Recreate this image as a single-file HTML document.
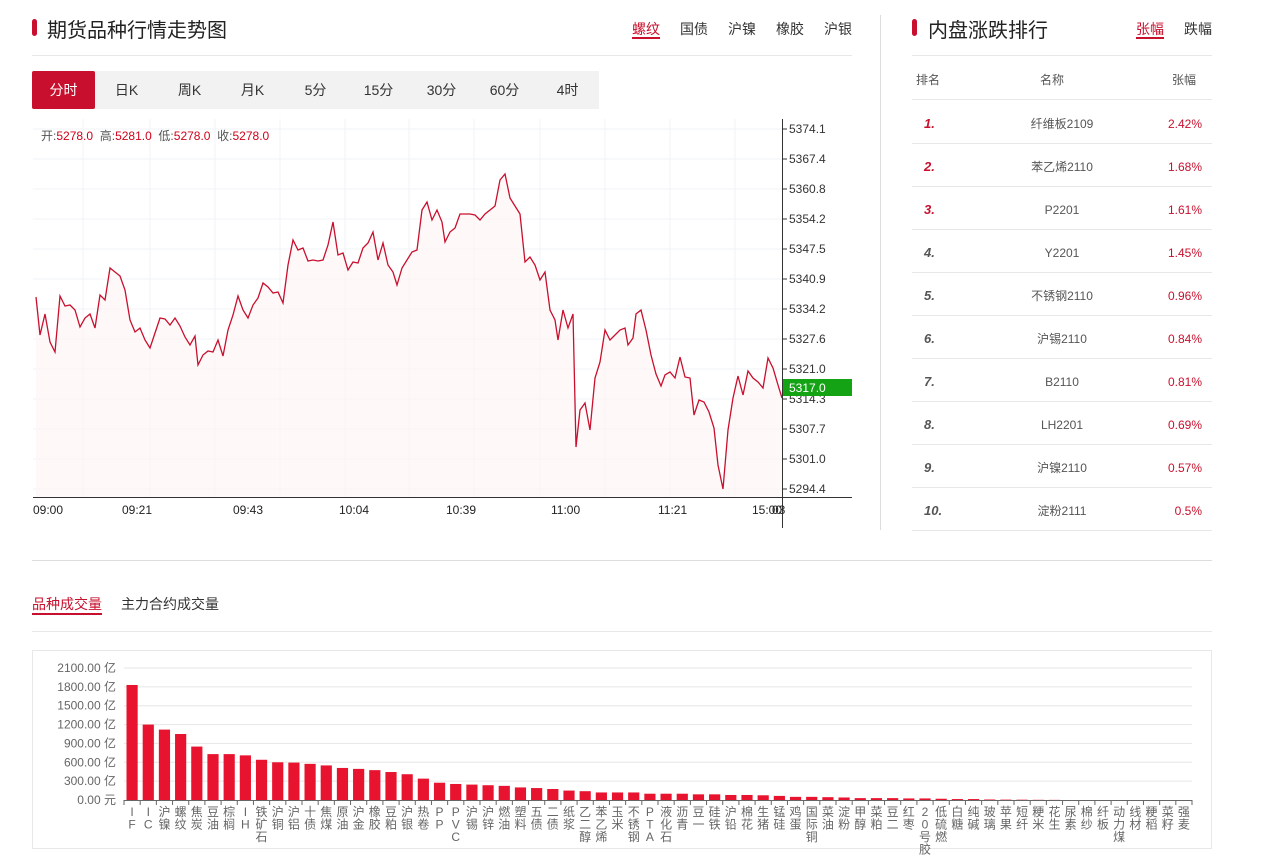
<!DOCTYPE html>
<html><head><meta charset="utf-8"><style>
*{margin:0;padding:0;box-sizing:border-box}
body{width:1286px;height:864px;background:#fff;font-family:"Liberation Sans","Noto Sans CJK SC",sans-serif;color:#333;position:relative;overflow:hidden}
.a{position:absolute;white-space:nowrap}
.bar{position:absolute;width:5px;height:17px;background:#c8102e;border-radius:3px}
.tb{position:absolute;top:71px;height:38px;line-height:38px;font-size:14px;color:#333;text-align:center}
.row{position:absolute;left:912px;width:300px;height:43px;border-bottom:1px solid #e8e8e8;font-size:12px;color:#555}
.row span{position:absolute;top:15px;line-height:16px;height:16px}
</style></head><body>
<div class="bar" style="left:32px;top:19px"></div>
<div class="a" style="left:47px;top:14px;font-size:20px;color:#222">期货品种行情走势图</div>
<div class="a" style="left:632px;top:19px;font-size:14px;color:#c8102e">螺纹</div>
<div class="a" style="left:632px;top:37px;width:28px;height:2px;background:#c8102e"></div>
<div class="a" style="left:680px;top:19px;font-size:14px">国债</div>
<div class="a" style="left:728px;top:19px;font-size:14px">沪镍</div>
<div class="a" style="left:776px;top:19px;font-size:14px">橡胶</div>
<div class="a" style="left:824px;top:19px;font-size:14px">沪银</div>
<div class="a" style="left:32px;top:55px;width:820px;height:1px;background:#e8e8e8"></div>
<div class="a" style="left:32px;top:71px;width:567px;height:38px;background:#f2f2f2"></div>
<div class="tb" style="left:32px;width:63px;background:#c8102e;color:#fff;border-radius:2px">分时</div>
<div class="tb" style="left:95px;width:63px">日K</div>
<div class="tb" style="left:158px;width:63px">周K</div>
<div class="tb" style="left:221px;width:63px">月K</div>
<div class="tb" style="left:284px;width:63px">5分</div>
<div class="tb" style="left:347px;width:63px">15分</div>
<div class="tb" style="left:410px;width:63px">30分</div>
<div class="tb" style="left:473px;width:63px">60分</div>
<div class="tb" style="left:536px;width:63px">4时</div>
<svg class="a" style="left:0;top:0" width="880" height="540" id="ls"></svg>
<div class="a" style="left:41px;top:127px;font-size:12px;color:#555">开:<span style="color:#d0021b">5278.0</span>&nbsp; 高:<span style="color:#d0021b">5281.0</span>&nbsp; 低:<span style="color:#d0021b">5278.0</span>&nbsp; 收:<span style="color:#d0021b">5278.0</span></div>
<div class="a" style="left:880px;top:15px;width:1px;height:515px;background:#ddd"></div>
<div class="bar" style="left:912px;top:19px"></div>
<div class="a" style="left:928px;top:14px;font-size:20px;color:#222">内盘涨跌排行</div>
<div class="a" style="left:1136px;top:19px;font-size:14px;color:#c8102e">张幅</div>
<div class="a" style="left:1136px;top:37px;width:28px;height:2px;background:#c8102e"></div>
<div class="a" style="left:1184px;top:19px;font-size:14px">跌幅</div>
<div class="a" style="left:912px;top:55px;width:300px;height:1px;background:#e8e8e8"></div>
<div class="row" style="top:57px"><span style="left:4px;top:15px">排名</span><span style="left:128px;top:15px">名称</span><span style="left:260px;top:15px">张幅</span></div>
<div id="rows"></div>
<div class="a" style="left:32px;top:560px;width:1180px;height:1px;background:#ddd"></div>
<div class="a" style="left:32px;top:594px;font-size:14px;color:#c8102e">品种成交量</div>
<div class="a" style="left:32px;top:613px;width:70px;height:2px;background:#c8102e"></div>
<div class="a" style="left:121px;top:594px;font-size:14px;color:#333">主力合约成交量</div>
<div class="a" style="left:32px;top:631px;width:1180px;height:1px;background:#e8e8e8"></div>
<div class="a" style="left:32px;top:650px;width:1180px;height:199px;border:1px solid #e8e8e8"></div>
<svg class="a" style="left:0;top:0" width="1286" height="864" id="bs"></svg>
<script>
var ns="http://www.w3.org/2000/svg";
function el(p,t,a,txt){var e=document.createElementNS(ns,t);for(var k in a)e.setAttribute(k,a[k]);if(txt!=null)e.textContent=txt;p.appendChild(e);return e;}
var ls=document.getElementById('ls');
for(var i=0;i<13;i++){var y=129+30*i;el(ls,'line',{x1:33,x2:782,y1:y,y2:y,stroke:'#f2f3f6'});}
[83,150,215,280,345,409,474,540,605,670,735].forEach(function(x){el(ls,'line',{x1:x,x2:x,y1:119,y2:497,stroke:'#f2f3f6'});});
var pts="36,297 40,335 45,314 50,342 55,352 60,296 65,306 70,305 75,310 80,327 85,318 90,314 95,328 100,295 105,300 110,268 115,272 120,276 125,290 130,320 135,332 140,328 145,340 150,348 155,333 160,318 165,319 170,325 175,318 180,326 185,337 190,345 195,336 198,365 203,355 208,351 213,352 218,340 223,356 228,330 233,315 238,296 243,310 248,318 253,305 258,298 263,283 268,287 273,293 278,292 283,303 288,265 293,240 298,250 303,248 308,261 313,260 318,261 323,260 328,245 333,222 338,255 343,253 348,270 353,262 358,263 363,248 368,243 373,232 378,260 383,243 388,265 393,272 397,285 402,268 407,260 412,252 417,250 422,210 427,202 432,220 437,210 442,222 445,242 450,232 455,228 460,214 470,214 475,215 480,220 485,214 490,210 495,206 500,180 505,174 510,198 515,206 520,214 525,262 530,257 535,265 540,280 545,272 550,310 555,320 558,340 563,310 568,328 573,314 576,447 580,410 585,403 590,430 595,378 600,362 605,330 610,340 615,335 620,330 625,328 628,345 633,338 636,314 641,310 646,330 651,355 656,374 661,386 665,375 670,372 675,378 680,357 685,377 690,378 694,415 699,400 704,402 709,412 714,428 718,465 723,489 728,430 733,398 738,376 743,395 748,371 753,378 758,382 763,388 768,358 773,368 778,385 782,398";
el(ls,'polygon',{points:"36,497 "+pts+" 782,497",fill:'#fdf5f5',opacity:0.7});
el(ls,'polyline',{points:pts,fill:'none',stroke:'#c8102e','stroke-width':1.3});
el(ls,'line',{x1:33,x2:852,y1:497.5,y2:497.5,stroke:'#333'});
el(ls,'line',{x1:782.5,x2:782.5,y1:119,y2:528,stroke:'#333'});
var yl=["5374.1","5367.4","5360.8","5354.2","5347.5","5340.9","5334.2","5327.6","5321.0","5314.3","5307.7","5301.0","5294.4"];
yl.forEach(function(t,i){var y=129+30*i;el(ls,'line',{x1:782,x2:787,y1:y,y2:y,stroke:'#333'});el(ls,'text',{x:789,y:y+4,'font-size':12,fill:'#333'},t);});
el(ls,'rect',{x:783,y:379,width:69,height:17,fill:'#14a314'});
el(ls,'text',{x:789,y:392,'font-size':12,fill:'#fff'},"5317.0");
[["09:00",33],["09:21",122],["09:43",233],["10:04",339],["10:39",446],["11:00",551],["11:21",658],["15:00",752]].forEach(function(a){el(ls,'text',{x:a[1],y:514,'font-size':12,fill:'#222'},a[0]);});
el(ls,'text',{x:772,y:514,'font-size':12,fill:'#222'},"03");
var rk=[["纤维板2109","2.42%"],["苯乙烯2110","1.68%"],["P2201","1.61%"],["Y2201","1.45%"],["不锈钢2110","0.96%"],["沪锡2110","0.84%"],["B2110","0.81%"],["LH2201","0.69%"],["沪镍2110","0.57%"],["淀粉2111","0.5%"]];
var h="";rk.forEach(function(r,i){var c=i<3?'#c8102e':'#555';h+='<div class="row" style="top:'+(101+43*i)+'px"><span style="left:12px;font-weight:bold;font-style:italic;font-size:13px;color:'+c+'">'+(i+1)+'.</span><span style="left:0;width:300px;text-align:center;color:#555">'+r[0]+'</span><span style="right:10px;color:#c8102e">'+r[1]+'</span></div>';});
document.getElementById('rows').innerHTML=h;
var bs=document.getElementById('bs');
var cats=["IF","IC","沪镍","螺纹","焦炭","豆油","棕榈","IH","铁矿石","沪铜","沪铝","十债","焦煤","原油","沪金","橡胶","豆粕","沪银","热卷","PP","PVC","沪锡","沪锌","燃油","塑料","五债","二债","纸浆","乙二醇","苯乙烯","玉米","不锈钢","PTA","液化石","沥青","豆一","硅铁","沪铅","棉花","生猪","锰硅","鸡蛋","国际铜","菜油","淀粉","甲醇","菜粕","豆二","红枣","20号胶","低硫燃","白糖","纯碱","玻璃","苹果","短纤","粳米","花生","尿素","棉纱","纤板","动力煤","线材","粳稻","菜籽","强麦"];
var v=[1830,1200,1120,1050,850,730,730,710,640,600,595,575,550,510,495,475,445,410,340,275,255,245,235,225,200,190,175,150,140,120,120,120,100,100,100,90,90,80,80,75,65,50,50,45,40,30,30,30,25,25,20,15,15,8,6,5,3,2,0,0,0,0,0,0,0,0];
var x0=124,x1=1192,by=800,sc=132/2100,w=(x1-x0)/cats.length;
var yt=["0.00 元","300.00 亿","600.00 亿","900.00 亿","1200.00 亿","1500.00 亿","1800.00 亿","2100.00 亿"];
yt.forEach(function(t,i){var y=by-i*300*sc;if(i>0)el(bs,'line',{x1:x0,x2:x1,y1:y,y2:y,stroke:'#e6e6e6'});el(bs,'text',{x:116,y:y+4,'font-size':12,fill:'#666','text-anchor':'end'},t);});
el(bs,'line',{x1:x0,x2:x1,y1:by+0.5,y2:by+0.5,stroke:'#666'});
cats.forEach(function(c,i){var x=x0+i*w;el(bs,'line',{x1:x,x2:x,y1:by,y2:by+5,stroke:'#666'});
var hh=v[i]*sc;if(hh>0)el(bs,'rect',{x:x+2.5,y:by-hh,width:w-5,height:hh,fill:'#e8132e'});
var ch=Array.from(c);ch.forEach(function(k,j){if(by+16+j*12.5<858)el(bs,'text',{x:x+w/2,y:by+16+j*12.5,'font-size':12,fill:'#666','text-anchor':'middle'},k);});});
el(bs,'line',{x1:x1,x2:x1,y1:by,y2:by+5,stroke:'#666'});
</script>
</body></html>
